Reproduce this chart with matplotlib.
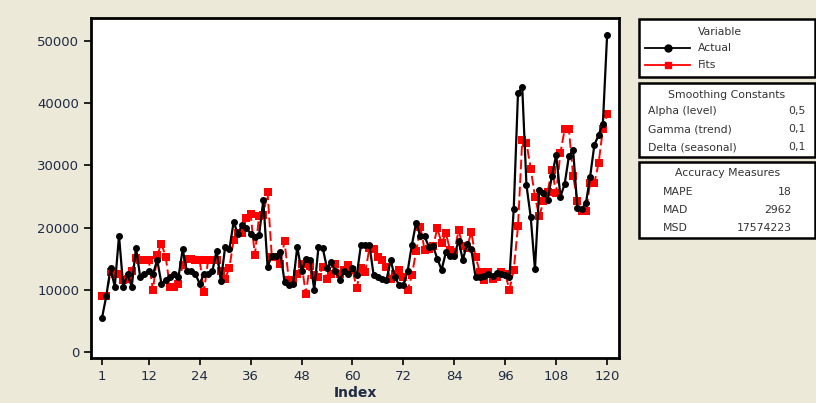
import numpy as np
import matplotlib
matplotlib.use("Agg")
import matplotlib.pyplot as plt
from matplotlib.patches import Rectangle
from matplotlib.lines import Line2D

#___data___#
actual = [5500, 9000, 13500, 10500, 18700, 10500, 12500, 10500, 16800, 12000,
          12500, 13000, 12500, 14800, 11000, 11500, 12000, 12500, 12000, 16500,
          13000, 13000, 12500, 11000, 12500, 12500, 13000, 16300, 11400, 16900,
          16500, 20900, 19000, 20400, 20000, 19000, 18500, 18800, 24400, 13700,
          15500, 15500, 16100, 11300, 10800, 11000, 16900, 13000, 15000, 14800,
          10000, 16900, 16700, 13500, 14500, 13000, 11600, 13000, 12500, 13500,
          12300, 17200, 17200, 17200, 12300, 12000, 11800, 11500, 14800, 12000,
          10800, 10800, 13000, 17200, 20800, 18600, 18600, 16900, 17000, 15000,
          13200, 16000, 15500, 15500, 17900, 14800, 17400, 16500, 12100, 12000,
          12200, 12500, 12200, 12700, 12500, 12300, 12100, 23000, 41600, 42600,
          26800, 21700, 13300, 26100, 25500, 24500, 28300, 31700, 25000, 27000,
          31500, 32400, 23100, 23000, 23900, 28200, 33300, 34900, 36700, 51000]

fits = [9000, 9000, 12900, 12500, 12500, 11500, 11800, 13000, 15100, 14800,
        14800, 14800, 9900, 15600, 17400, 15300, 10400, 10500, 10900, 14000,
        15000, 15000, 14800, 14800, 9700, 14800, 14800, 14800, 13000, 11800,
        13500, 18000, 19100, 19100, 21500, 22200, 15600, 21800, 22000, 25700,
        15300, 15300, 14200, 17800, 11600, 11300, 12500, 14200, 9400, 13900,
        12300, 12000, 13700, 11800, 12500, 14200, 12500, 13200, 14000, 13200,
        10300, 13500, 12800, 16700, 16500, 15300, 14800, 13700, 11800, 12600,
        13200, 12000, 10000, 12300, 16200, 20100, 16400, 16500, 17000, 19900,
        17500, 19100, 16400, 16000, 19600, 17000, 16800, 19300, 15300, 12900,
        11600, 12900, 11800, 12000, 12900, 12500, 10000, 13200, 20200, 34100,
        33600, 29500, 25000, 21800, 24200, 25800, 29300, 25600, 32000, 35800,
        35800, 28300, 24300, 22600, 22600, 27200, 27200, 30400, 35800, 38200]

x_ticks = [1, 12, 24, 36, 48, 60, 72, 84, 96, 108, 120]
y_ticks = [0, 10000, 20000, 30000, 40000, 50000]

smoothing_names = ["Alpha (level)", "Gamma (trend)", "Delta (seasonal)"]
smoothing_values = ["0,5", "0,1", "0,1"]
accuracy_names = ["MAPE", "MAD", "MSD"]
accuracy_values = ["18", "2962", "17574223"]

index = np.arange(1, len(actual) + 1)

bg = "#ECE9D8"
tick_col = "#1f2a44"
txt_col = "#333333"

fig = plt.figure(figsize=(8.16, 4.03), dpi=100, facecolor=bg)
ax = fig.add_axes([91/816, 1 - 358/403, (619 - 91)/816, (358 - 18)/403])
ax.set_facecolor("white")

#___the two series___#
ax.plot(index, actual, color="black", lw=1.6, marker="o", ms=4, zorder=3)
ax.plot(index, fits, color="red", lw=1.4, ls=(0, (5, 2)), marker="s", ms=5.5,
        markeredgewidth=0, zorder=2)

ax.set_xlim(-1.6, 122.8)
ax.set_ylim(-965, 53700)
ax.set_xticks(x_ticks)
ax.set_yticks(y_ticks)
ax.tick_params(direction="out", length=5, width=1.2, labelsize=9.5, labelcolor=tick_col)
for s in ax.spines.values():
    s.set_linewidth(2)
ax.set_xlabel("Index", fontsize=10, fontweight="bold", color=tick_col, labelpad=2)

#___boxes on the right (in pixels, converted to figure coords)___#
def box(x0, y0, x1, y1):
    fig.patches.append(Rectangle((x0/816, 1 - y1/403), (x1 - x0)/816, (y1 - y0)/403,
                                 transform=fig.transFigure, facecolor="white",
                                 edgecolor="black", lw=1.8))

def txt(x, y, s, ha="left"):
    fig.text(x/816, 1 - y/403, s, ha=ha, va="center", fontsize=7.8, color=txt_col)

def key(y, col, mk, ls):
    fig.lines.append(Line2D([645/816, 690/816], [1 - y/403, 1 - y/403], transform=fig.transFigure,
                            color=col, lw=1.3, ls=ls))
    fig.lines.append(Line2D([668/816], [1 - y/403], transform=fig.transFigure,
                            color=col, marker=mk, ms=5, ls="none"))

box(639, 19, 815, 77)
txt(698, 32, "Variable")
txt(698, 48, "Actual")
txt(698, 65, "Fits")
key(48, "black", "o", "-")
key(65, "red", "s", "-")

box(639, 83, 815, 157)
txt(727, 95, "Smoothing Constants", ha="center")
for k, (n, v) in enumerate(zip(smoothing_names, smoothing_values)):
    txt(648, 111 + k*18, n)
    txt(806, 111 + k*18, v, ha="right")

box(639, 162, 815, 238)
txt(728, 173, "Accuracy Measures", ha="center")
for k, (n, v) in enumerate(zip(accuracy_names, accuracy_values)):
    txt(663, 192 + k*18, n)
    txt(792, 192 + k*18, v, ha="right")

fig.savefig("out.png", dpi=100, facecolor=bg)
